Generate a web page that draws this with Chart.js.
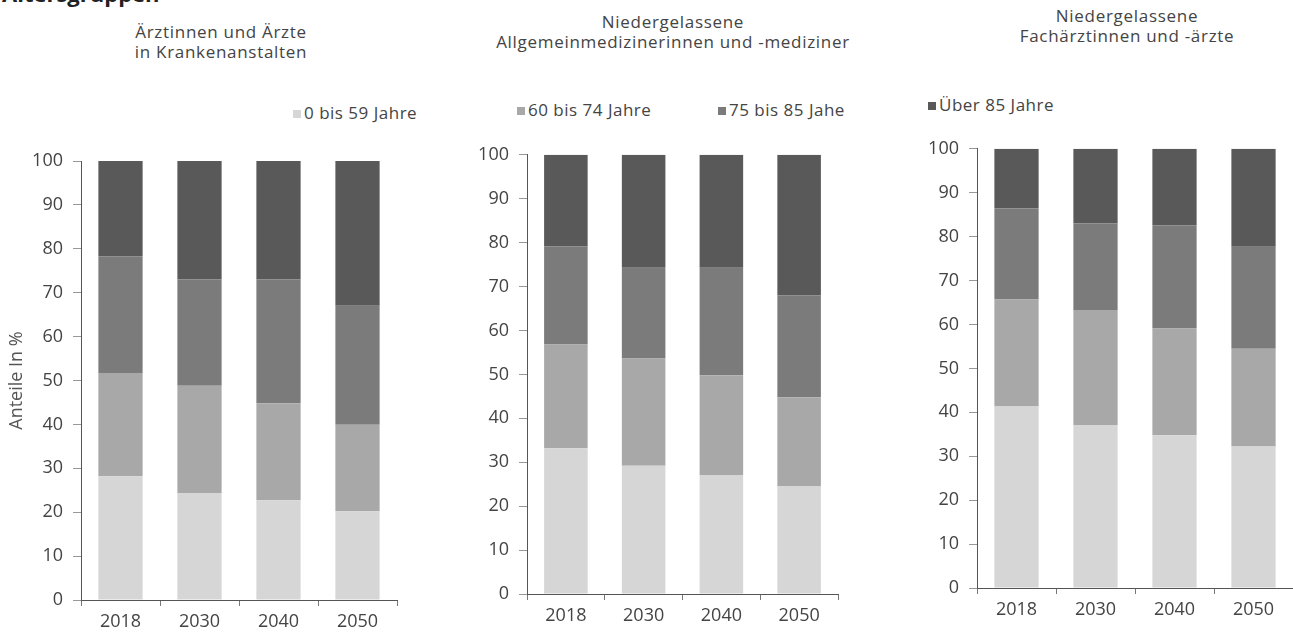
<!DOCTYPE html>
<html lang="de">
<head>
<meta charset="utf-8">
<title>Altersgruppen</title>
<script src="https://cdn.jsdelivr.net/npm/chart.js@4.4.1/dist/chart.umd.min.js"></script>
<style>
    body { margin: 0; width: 1293px; height: 632px; background: #fff; position: relative; overflow: hidden;
           font-family: 'Open Sans', sans-serif; color: #444; }
    .kopf { position: absolute; left: 2px; top: -22px; font-size: 22px; font-weight: bold; color: #222; }
    .titel { position: absolute; text-align: center; font-size: 17px; line-height: 20px; letter-spacing: 0.7px;
             white-space: nowrap; transform: translateX(-50%); }
    .leg { position: absolute; font-size: 17px; line-height: 20px; white-space: nowrap; letter-spacing: 0.5px; }
    .leg i { display: inline-block; width: 8px; height: 8px; margin-right: 3px; vertical-align: 1px; }
    canvas { position: absolute; }
</style>
</head>
<body>
<div class="kopf">Altersgruppen</div>

<div class="titel" style="left:221px; top:22px">Ärztinnen und Ärzte<br>in Krankenanstalten</div>
<div class="titel" style="left:673px; top:12px">Niedergelassene<br>Allgemeinmedizinerinnen und -mediziner</div>
<div class="titel" style="left:1127px; top:6px">Niedergelassene<br>Fachärztinnen und -ärzte</div>

<div id="legende"></div>

<canvas id="diagrammKA" width="400" height="492" style="left:0; top:140px"></canvas>
<canvas id="diagrammAM" width="400" height="492" style="left:440px; top:134px"></canvas>
<canvas id="diagrammFA" width="403" height="492" style="left:890px; top:128px"></canvas>

<script>
// Jahre und Altersgruppen
const jahre = ['2018', '2030', '2040', '2050'];
const altersgruppen = ['0 bis 59 Jahre', '60 bis 74 Jahre', '75 bis 85 Jahe', 'Über 85 Jahre'];
const farben = ['#d6d6d6', '#a8a8a8', '#7b7b7b', '#595959'];
const yTicks = [0, 10, 20, 30, 40, 50, 60, 70, 80, 90, 100];

// Ärztinnen und Ärzte in Krankenanstalten (Anteile in %)
const kaBis59 = [28.2, 24.4, 22.7, 20.2];
const ka60bis74 = [23.5, 24.4, 22.1, 19.7];
const ka75bis85 = [26.6, 24.2, 28.2, 27.1];
const kaUeber85 = [21.7, 27.0, 27.0, 33.0];

// Niedergelassene Allgemeinmedizinerinnen und -mediziner
const amBis59 = [33.2, 29.2, 27.1, 24.6];
const am60bis74 = [23.6, 24.4, 22.7, 20.2];
const am75bis85 = [22.4, 20.7, 24.5, 23.2];
const amUeber85 = [20.8, 25.7, 25.7, 32.0];

// Niedergelassene Fachärztinnen und -ärzte
const faBis59 = [41.3, 37.1, 34.8, 32.2];
const fa60bis74 = [24.4, 26.2, 24.3, 22.3];
const fa75bis85 = [20.7, 19.7, 23.5, 23.2];
const faUeber85 = [13.6, 17.0, 17.4, 22.3];

// Legende (über alle drei Diagramme verteilt)
const legendePos = [[293, 103], [517, 100], [718, 100], [928, 95]];
const legende = document.getElementById('legende');
altersgruppen.forEach((name, i) => {
    const el = document.createElement('div');
    el.className = 'leg';
    el.style.left = legendePos[i][0] + 'px';
    el.style.top = legendePos[i][1] + 'px';
    el.innerHTML = '<i style="background:' + farben[i] + '"></i>' + name;
    legende.appendChild(el);
});

function erstelleDiagramm(id, reihen, yBreite, padTop, padRight, mitTitel) {
    const ctx = document.getElementById(id).getContext('2d');

    const data = {
        labels: jahre,
        datasets: reihen.map((werte, i) => ({
            label: altersgruppen[i],
            data: werte,
            backgroundColor: farben[i],
            borderWidth: 0,
            categoryPercentage: 1,
            barPercentage: 0.56
        }))
    };

    new Chart(ctx, {
        type: 'bar',
        data: data,
        options: {
            responsive: false,
            animation: false,
            layout: { padding: { top: padTop, right: padRight, left: 0, bottom: 0 } },
            plugins: {
                legend: { display: false },
                tooltip: { enabled: false }
            },
            scales: {
                x: {
                    stacked: true,
                    grid: { display: true, drawOnChartArea: false, drawTicks: true, tickLength: 6, color: '#777', offset: true },
                    border: { display: true, color: '#555', width: 1 },
                    ticks: { color: '#444', padding: 5, font: { family: 'Open Sans', size: 18 } },
                    afterFit: s => { s.height = 32; }
                },
                y: {
                    stacked: true,
                    min: 0,
                    max: 100,
                    afterBuildTicks: s => { s.ticks = yTicks.map(v => ({ value: v })); },
                    grid: { display: true, drawOnChartArea: false, drawTicks: true, tickLength: 8, color: '#999' },
                    border: { display: true, color: '#555', width: 1 },
                    ticks: { color: '#444', padding: 10, font: { family: 'Open Sans', size: 18 } },
                    title: {
                        display: mitTitel,
                        text: 'Anteile In %',
                        color: '#555',
                        padding: { top: 6, bottom: 0 },
                        font: { family: 'Open Sans', size: 18 }
                    },
                    afterFit: s => { s.width = yBreite; }
                }
            }
        }
    });
}

document.addEventListener('DOMContentLoaded', function() {
    erstelleDiagramm('diagrammKA', [kaBis59, ka60bis74, ka75bis85, kaUeber85], 81, 21, 3, true);
    erstelleDiagramm('diagrammAM', [amBis59, am60bis74, am75bis85, amUeber85], 87, 20, 2, false);
    erstelleDiagramm('diagrammFA', [faBis59, fa60bis74, fa75bis85, faUeber85], 87, 20, 0, false);
});
</script>
</body>
</html>
